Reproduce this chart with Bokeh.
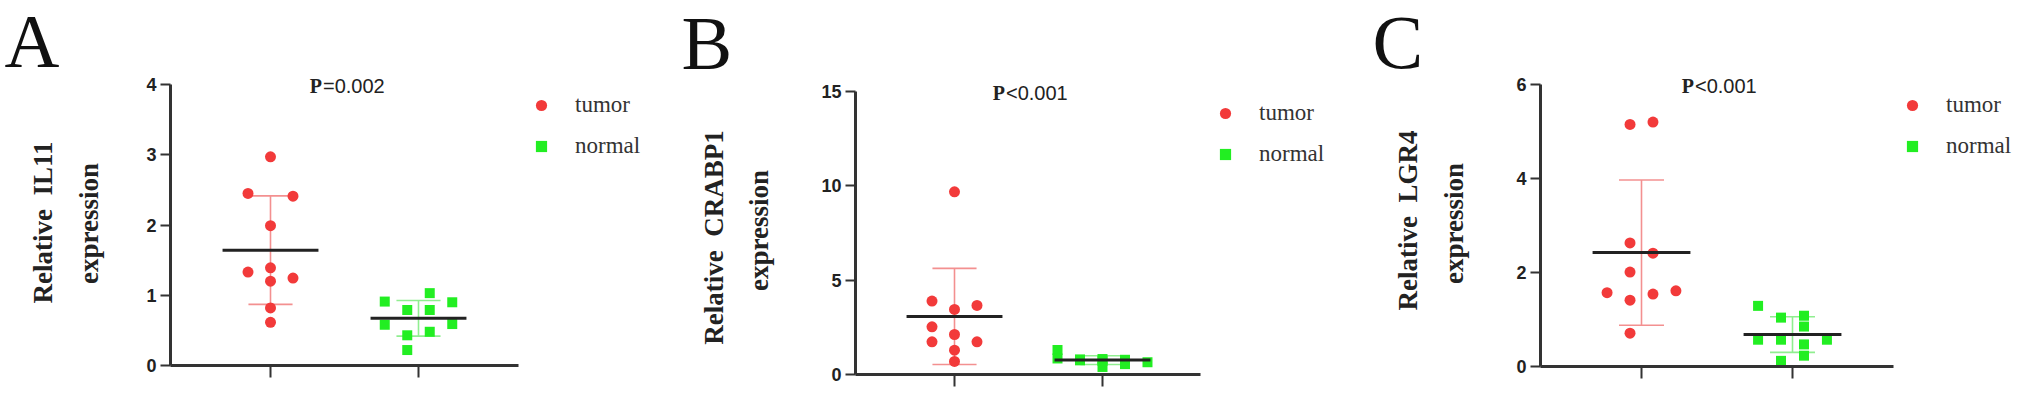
import numpy as np
from bokeh.plotting import figure
from bokeh.models import Label, Legend, LegendItem, FixedTicker, Range1d, LinearAxis
from bokeh.layouts import row
from bokeh.embed import file_html
from bokeh.resources import INLINE

# ---------------- data ----------------
panel_letters = ["A", "B", "C"]
gene_names = ["IL11", "CRABP1", "LGR4"]
p_values = ["=0.002", "<0.001", "<0.001"]
groups = ["tumor", "normal"]

y_ticks_a = [0, 1, 2, 3, 4]
y_ticks_b = [0, 5, 10, 15]
y_ticks_c = [0, 2, 4, 6]

tumor_a = [2.97, 2.45, 2.41, 1.99, 1.39, 1.33, 1.245, 1.20, 0.82, 0.615]
normal_a = [1.03, 0.91, 0.90, 0.79, 0.79, 0.58, 0.59, 0.48, 0.43, 0.22]
tumor_b = [9.68, 3.89, 3.66, 3.45, 2.53, 2.12, 1.73, 1.73, 1.29, 0.69]
normal_b = [1.30, 0.85, 0.80, 0.82, 0.78, 0.75, 0.72, 0.55, 0.40, 0.65]
tumor_c = [5.15, 5.20, 2.63, 2.41, 2.01, 1.57, 1.61, 1.54, 1.41, 0.71]
normal_c = [1.29, 1.04, 1.08, 0.85, 0.57, 0.57, 0.47, 0.57, 0.23, 0.12]

# beeswarm column of each point (in columns left/right of the group centre)
tumor_a_swarm = [0, -1, 1, 0, 0, -1, 1, 0, 0, 0]
normal_a_swarm = [0.5, -1.5, 1.5, -0.5, 0.5, -1.5, 1.5, 0.5, -0.5, -0.5]
tumor_b_swarm = [0, -1, 1, 0, -1, 0, -1, 1, 0, 0]
normal_b_swarm = [-2, -2, -1, 0, 1, -1, 0, 1, 0, 2]
tumor_c_swarm = [-0.5, 0.5, -0.5, 0.5, -0.5, -1.5, 1.5, 0.5, -0.5, -0.5]
normal_c_swarm = [-1.5, -0.5, 0.5, 0.5, -1.5, -0.5, 0.5, 1.5, 0.5, -0.5]

# ---------------- styles ----------------
RED = "#f23a3a"
GREEN = "#22ee22"
RED_ERR = "#f39090"
GREEN_ERR = "#90ee90"
DARK = "#222222"
AXIS = "#333333"
SERIF = "Liberation Serif"
SANS = "Liberation Sans"

COL_W = 0.152      # swarm column width (x units)
MEAN_HW = 0.324    # half width of mean line
CAP_HW = 0.149     # half width of error caps

FIG_H = 390
PAGE_BOTTOM = 8 + FIG_H  # page y of the figures' bottom edge

# layout per panel, in page pixels
panels = [
    dict(left=8, w=680, axis=178, t1=278, t2=426, xend=526, y0=373, ytop=92,
         yt=y_ticks_a, t=tumor_a, n=normal_a, ts=tumor_a_swarm, ns=normal_a_swarm,
         letter=(12, 48), yl1=(50, 230), yl2=(96, 231), p=(329.5, 93), leg=(535, 169)),
    dict(left=688, w=685, axis=863, t1=962, t2=1110, xend=1208, y0=382, ytop=99,
         yt=y_ticks_b, t=tumor_b, n=normal_b, ts=tumor_b_swarm, ns=normal_b_swarm,
         letter=(689, 50), yl1=(721, 245), yl2=(766, 238), p=(1012.5, 100), leg=(1219, 177)),
    dict(left=1373, w=650, axis=1548, t1=1649, t2=1800, xend=1901, y0=374, ytop=92,
         yt=y_ticks_c, t=tumor_c, n=normal_c, ts=tumor_c_swarm, ns=normal_c_swarm,
         letter=(1380, 49), yl1=(1415, 228), yl2=(1461, 231), p=(1701.5, 93), leg=(1906, 169)),
]

figs = []
for i, cfg in enumerate(panels):
    ymax = cfg["yt"][-1]
    ppx = float(cfg["t2"] - cfg["t1"])
    ppy = (cfg["y0"] - cfg["ytop"]) / float(ymax)
    x_start = 1 - (cfg["t1"] - cfg["left"]) / ppx
    x_end = x_start + cfg["w"] / ppx
    y_start = -(PAGE_BOTTOM - cfg["y0"]) / ppy
    y_end = y_start + FIG_H / ppy
    ax_x = 1 - (cfg["t1"] - cfg["axis"]) / ppx
    ax_xend = 2 + (cfg["xend"] - cfg["t2"]) / ppx

    def sx(X, c=cfg):
        return X - c["left"]

    def sy(Y):
        return PAGE_BOTTOM - Y

    p = figure(width=cfg["w"], height=FIG_H, output_backend="svg", toolbar_location=None,
               x_range=Range1d(x_start, x_end), y_range=Range1d(y_start, y_end),
               x_axis_type=None, y_axis_type=None,
               min_border=0, min_border_left=0, min_border_right=0,
               min_border_top=0, min_border_bottom=0)
    p.outline_line_color = None
    p.grid.visible = False
    p.background_fill_color = "white"
    p.border_fill_color = "white"

    # axes placed inside the canvas at fixed data locations
    xaxis = LinearAxis(fixed_location=0, bounds=(ax_x, ax_xend), ticker=FixedTicker(ticks=[1, 2]),
                       major_label_overrides={1: " ", 2: " "}, major_label_text_color=None,
                       major_tick_in=0, major_tick_out=12, minor_tick_line_color=None,
                       axis_line_width=3, axis_line_color=AXIS,
                       major_tick_line_width=2, major_tick_line_color=AXIS)
    yaxis = LinearAxis(fixed_location=ax_x, bounds=(0, ymax), ticker=FixedTicker(ticks=cfg["yt"]),
                       major_tick_in=0, major_tick_out=10, minor_tick_line_color=None,
                       major_label_standoff=4, major_label_text_font=SANS,
                       major_label_text_font_style="bold", major_label_text_font_size="18px",
                       major_label_text_color=DARK,
                       axis_line_width=3, axis_line_color=AXIS,
                       major_tick_line_width=2, major_tick_line_color=AXIS)
    p.add_layout(xaxis, "below")
    p.add_layout(yaxis, "left")

    renderers = []
    for g, (vals, swarm, col, ecol, mk, sz) in enumerate([
            (cfg["t"], cfg["ts"], RED, RED_ERR, "circle", 11),
            (cfg["n"], cfg["ns"], GREEN, GREEN_ERR, "square", 10)]):
        xc = g + 1
        arr = np.array(vals, dtype=float)
        m = arr.mean()
        sd = arr.std(ddof=1)
        # error bar (mean +/- SD)
        p.segment(x0=[xc, xc - CAP_HW, xc - CAP_HW], y0=[m - sd, m + sd, m - sd],
                  x1=[xc, xc + CAP_HW, xc + CAP_HW], y1=[m + sd, m + sd, m - sd],
                  line_color=ecol, line_width=1.6)
        xs = [xc + s * COL_W for s in swarm]
        r = p.scatter(x=xs, y=vals, marker=mk, size=sz, fill_color=col, line_color=None)
        renderers.append(r)
        p.segment(x0=[xc - MEAN_HW], y0=[m], x1=[xc + MEAN_HW], y1=[m],
                  line_color=DARK, line_width=3)

    legend = Legend(items=[LegendItem(label=groups[0], renderers=[renderers[0]]),
                           LegendItem(label=groups[1], renderers=[renderers[1]])],
                    location=(sx(cfg["leg"][0]), sy(cfg["leg"][1])), orientation="vertical",
                    padding=0, margin=0, spacing=11,
                    glyph_width=28, glyph_height=28, label_height=30, label_standoff=20,
                    label_text_font=SERIF, label_text_font_size="23px",
                    label_text_color="#333333",
                    border_line_color=None, background_fill_color=None, background_fill_alpha=0)
    p.add_layout(legend)

    # panel letter
    p.add_layout(Label(x=sx(cfg["letter"][0]), y=sy(cfg["letter"][1]), x_units="screen", y_units="screen",
                       text=panel_letters[i], text_font=SERIF, text_font_size="76px",
                       text_color="#111111", text_align="left", text_baseline="alphabetic"))
    # y axis title (two lines)
    p.add_layout(Label(x=sx(cfg["yl1"][0]), y=sy(cfg["yl1"][1]), x_units="screen", y_units="screen",
                       text="Relative\u2002" + gene_names[i], angle=np.pi / 2,
                       text_font=SERIF, text_font_style="bold", text_font_size="27px",
                       text_color=DARK, text_align="center", text_baseline="middle"))
    p.add_layout(Label(x=sx(cfg["yl2"][0]), y=sy(cfg["yl2"][1]), x_units="screen", y_units="screen",
                       text="expression", angle=np.pi / 2,
                       text_font=SERIF, text_font_style="bold", text_font_size="27px",
                       text_color=DARK, text_align="center", text_baseline="middle"))
    # P value
    p.add_layout(Label(x=sx(cfg["p"][0]), y=sy(cfg["p"][1]), x_units="screen", y_units="screen",
                       text="P", text_font=SERIF, text_font_style="bold", text_font_size="20px",
                       text_color=DARK, text_align="right", text_baseline="alphabetic"))
    p.add_layout(Label(x=sx(cfg["p"][0]) + 1, y=sy(cfg["p"][1]), x_units="screen", y_units="screen",
                       text=p_values[i], text_font=SANS, text_font_size="20px",
                       text_color=DARK, text_align="left", text_baseline="alphabetic"))
    figs.append(p)

layout = row(*figs)
open("out.html", "w").write(file_html(layout, INLINE))
